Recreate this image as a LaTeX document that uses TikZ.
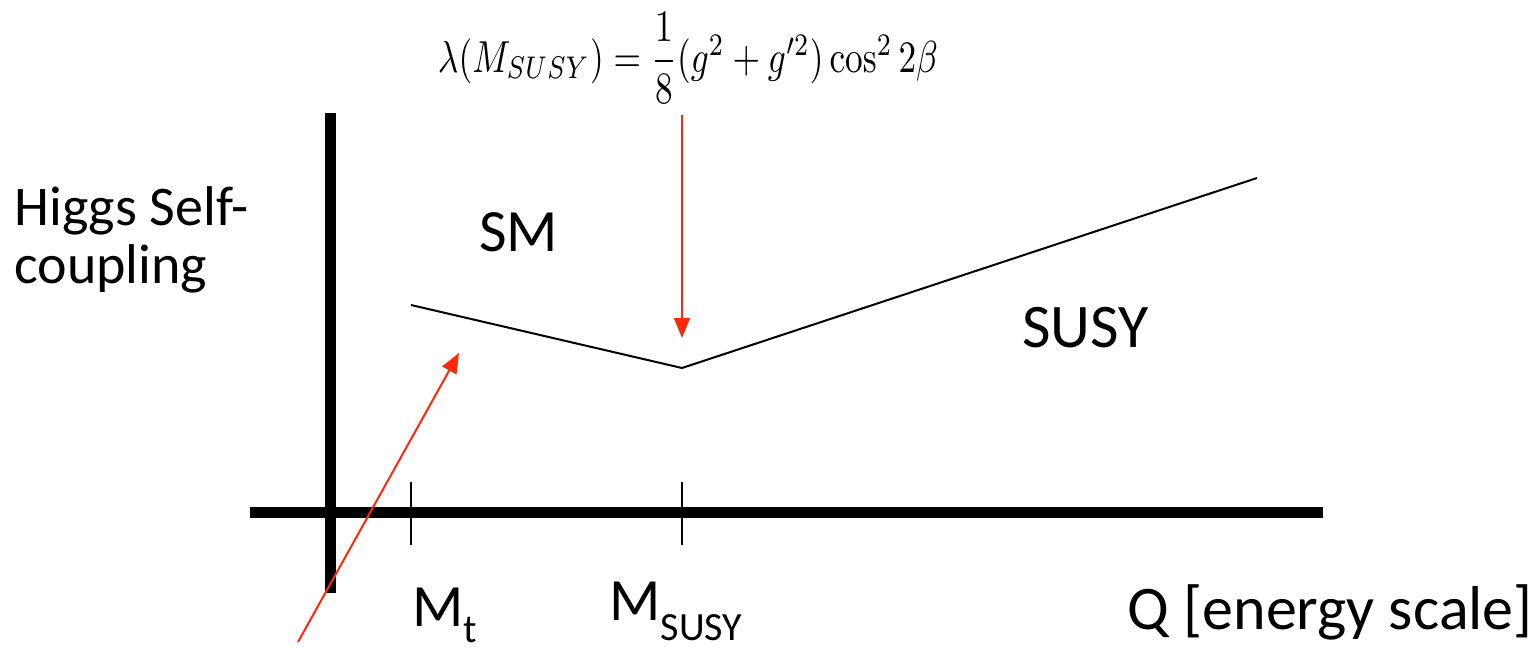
\documentclass[tikz,border=0pt]{standalone}
\usepackage{amsmath}
\usepackage[no-math]{fontspec}
\setmainfont{Carlito}
\usetikzlibrary{arrows.meta}
\definecolor{arrowred}{RGB}{255,40,10}
\tikzset{
  axisline/.style={line width=5.6pt},
  tickline/.style={line width=1pt},
  curveline/.style={line width=1pt, line join=miter},
  redarrow/.style={draw=arrowred, line width=1pt, -{Triangle[length=10pt,width=8pt]}},
  lbl/.style={inner sep=0pt, font=\fontsize{30pt}{36pt}\selectfont},
  biglbl/.style={inner sep=0pt, font=\fontsize{31pt}{36pt}\selectfont},
  ylbl/.style={inner sep=0pt, align=left, font=\fontsize{28pt}{29pt}\selectfont},
}
\newcommand{\subtxt}[2][-0.34em]{\raisebox{#1}{\fontsize{20pt}{24pt}\selectfont #2}}
\begin{document}
\begin{tikzpicture}[x=0.5pt,y=-0.5pt]
\useasboundingbox (0,0) rectangle (1537,649);
% axes
\coordinate (yax-top) at (330.5,113);
\coordinate (yax-bot) at (330.5,593);
\coordinate (xax-left) at (250,512.5);
\coordinate (xax-right) at (1323,512.5);
\draw[axisline] (yax-top) -- (yax-bot);
\draw[axisline] (xax-left) -- (xax-right);
% ticks
\coordinate (mt-top) at (410.5,482);
\coordinate (mt-bot) at (410.5,545);
\coordinate (ms-top) at (682,482);
\coordinate (ms-bot) at (682,545);
\draw[tickline] (mt-top) -- (mt-bot);
\draw[tickline] (ms-top) -- (ms-bot);
% coupling curve
\coordinate (p1) at (411,305);
\coordinate (p2) at (682,368);
\coordinate (p3) at (1257,178);
\draw[curveline] (p1) -- (p2) -- (p3);
% formula
\node[inner sep=0pt, anchor=center] (formula) at (688,58)
  {\resizebox*{250pt}{45pt}{$\lambda(M_{SUSY}) = \dfrac{1}{8}(g^2+g'^2)\cos^2 2\beta$}};
% red arrows
\coordinate (ra1-start) at (682,115);
\coordinate (ra1-tip) at (682,338);
\draw[redarrow] (ra1-start) -- (ra1-tip);
\coordinate (ra2-start) at (298,642);
\coordinate (ra2-tip) at (459,353);
\draw[redarrow] (ra2-start) -- (ra2-tip);
% labels
\node[ylbl, anchor=base west] (ylabel) at (14,283) {Higgs Self-\\coupling};
\node[lbl, anchor=base west] (sm) at (479,251) {SM};
\node[biglbl, anchor=base west] (susy) at (1022,347) {SUSY};
\node[lbl, anchor=base west] (mt) at (412,626) {M\subtxt[-0.28em]{t}};
\node[lbl, anchor=base west] (msusy) at (609,620) {M\subtxt{SUSY}};
\node[biglbl, anchor=base east] (qlabel) at (1533,629) {Q [energy scale]};
\end{tikzpicture}
\end{document}
